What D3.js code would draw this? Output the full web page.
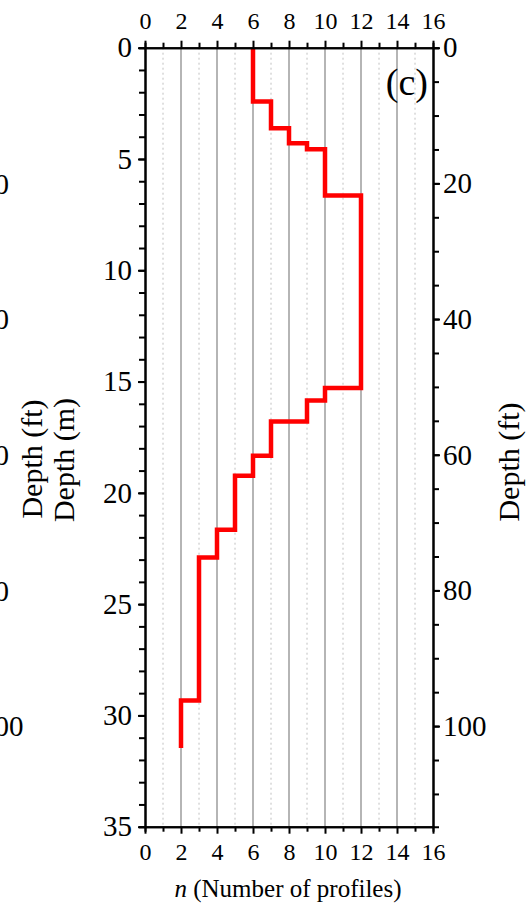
<!DOCTYPE html>
<html>
<head>
<meta charset="utf-8">
<script src="https://cdn.jsdelivr.net/npm/d3@7"></script>
<style>
  body { margin: 0; background: #fff; }
  svg { display: block; }
</style>
</head>
<body>
<svg id="chart"></svg>
<script>
(function(){

  // step profile: n (number of profiles) starting at each depth (m)
  const segTop = [0, 2.42, 3.62, 4.29, 4.56, 6.64, 15.29, 15.85, 16.79, 18.33, 19.23, 21.66, 22.9, 29.33];
  const segN   = [6, 7, 8, 9, 10, 12, 10, 9, 7, 6, 5, 4, 3, 2];
  const endDepth = 31.46;

  const nTicks = [0, 2, 4, 6, 8, 10, 12, 14, 16];
  const mTicks = [0, 5, 10, 15, 20, 25, 30, 35];
  const ftTicks = [0, 20, 40, 60, 80, 100];
  const panelLabel = "(c)";

  const W = 528, H = 910;
  const font = "'Liberation Serif', 'Times New Roman', serif";

  const svg = d3.select("#chart").attr("width", W).attr("height", H);

  const x = d3.scaleLinear().domain([0, 16]).range([145, 433]);
  const y = d3.scaleLinear().domain([0, 35]).range([47.7, 826.7]);
  const yft = d3.scaleLinear().domain([0, 35 / 0.3048]).range([47.7, 826.7]);

  // grid lines
  svg.append("g").selectAll("line")
    .data(d3.range(1, 16))
    .join("line")
      .attr("x1", d => x(d)).attr("x2", d => x(d))
      .attr("y1", y(0)).attr("y2", y(35))
      .attr("stroke", d => d % 2 ? "#c0c0c0" : "#9c9c9c")
      .attr("stroke-width", d => d % 2 ? 1 : 1.5)
      .attr("stroke-dasharray", d => d % 2 ? "2,3" : null);

  // red step line
  const pts = segTop.map((d, i) => [segN[i], d]);
  pts.push([segN[segN.length - 1], endDepth]);

  const line = d3.line()
    .x(d => x(d[0]))
    .y(d => y(d[1]))
    .curve(d3.curveStepBefore);

  svg.append("path")
    .datum(pts)
    .attr("d", line)
    .attr("fill", "none")
    .attr("stroke", "#ff0000")
    .attr("stroke-width", 4.5)
    .attr("stroke-linejoin", "miter");

  function styleAxis(g, size) {
    g.attr("font-family", font).attr("font-size", size);
    g.select(".domain").attr("stroke", "#000").attr("stroke-width", 2);
    g.selectAll(".tick line").attr("stroke", "#000").attr("stroke-width", 2);
    g.selectAll(".tick text").attr("fill", "#000");
  }

  // minor ticks first
  svg.append("g").attr("transform", `translate(0,${y(0)})`)
    .call(d3.axisTop(x).tickValues(d3.range(1, 16, 2)).tickSize(5).tickFormat(""))
    .call(g => styleAxis(g, 22));
  svg.append("g").attr("transform", `translate(0,${y(35)})`)
    .call(d3.axisBottom(x).tickValues(d3.range(1, 16, 2)).tickSize(5).tickFormat(""))
    .call(g => styleAxis(g, 22));
  svg.append("g").attr("transform", `translate(${x(0)},0)`)
    .call(d3.axisLeft(y).tickValues(d3.range(0, 36, 1)).tickSize(6).tickFormat(""))
    .call(g => styleAxis(g, 28));
  svg.append("g").attr("transform", `translate(${x(16)},0)`)
    .call(d3.axisRight(yft).tickValues(d3.range(0, 115, 5)).tickSize(6).tickFormat(""))
    .call(g => styleAxis(g, 28));

  // major axes
  svg.append("g").attr("transform", `translate(0,${y(0)})`)
    .call(d3.axisTop(x).tickValues(nTicks).tickSize(7).tickPadding(12).tickSizeOuter(0))
    .call(g => styleAxis(g, 24));
  svg.append("g").attr("transform", `translate(0,${y(35)})`)
    .call(d3.axisBottom(x).tickValues(nTicks).tickSize(7).tickPadding(9).tickSizeOuter(0))
    .call(g => styleAxis(g, 24));
  svg.append("g").attr("transform", `translate(${x(0)},0)`)
    .call(d3.axisLeft(y).tickValues(mTicks).tickSize(7).tickPadding(6).tickSizeOuter(0))
    .call(g => styleAxis(g, 29));
  svg.append("g").attr("transform", `translate(${x(16)},0)`)
    .call(d3.axisRight(yft).tickValues(ftTicks).tickSize(7).tickPadding(3).tickSizeOuter(0))
    .call(g => styleAxis(g, 29));

  // clipped labels from the neighbouring panel
  svg.append("g").selectAll("text")
    .data(ftTicks.slice(1))
    .join("text")
      .attr("x", -20)
      .attr("y", d => yft(d))
      .attr("dy", "0.35em")
      .attr("font-family", font)
      .attr("font-size", 29)
      .text(d => d);

  // axis titles
  svg.append("text")
    .attr("transform", "translate(42,459) rotate(-90)")
    .attr("text-anchor", "middle")
    .attr("font-family", font).attr("font-size", 30)
    .text("Depth (ft)");
  svg.append("text")
    .attr("transform", "translate(74,460) rotate(-90)")
    .attr("text-anchor", "middle")
    .attr("font-family", font).attr("font-size", 30)
    .text("Depth (m)");
  svg.append("text")
    .attr("transform", "translate(519,462) rotate(-90)")
    .attr("text-anchor", "middle")
    .attr("font-family", font).attr("font-size", 30)
    .text("Depth (ft)");

  const xt = svg.append("text")
    .attr("x", 288).attr("y", 897)
    .attr("text-anchor", "middle")
    .attr("font-family", font).attr("font-size", 25);
  xt.append("tspan").attr("font-style", "italic").text("n");
  xt.append("tspan").text(" (Number of profiles)");

  svg.append("text")
    .attr("x", 428).attr("y", 95)
    .attr("text-anchor", "end")
    .attr("font-family", font).attr("font-size", 38)
    .text(panelLabel);

})();
</script>
</body>
</html>
